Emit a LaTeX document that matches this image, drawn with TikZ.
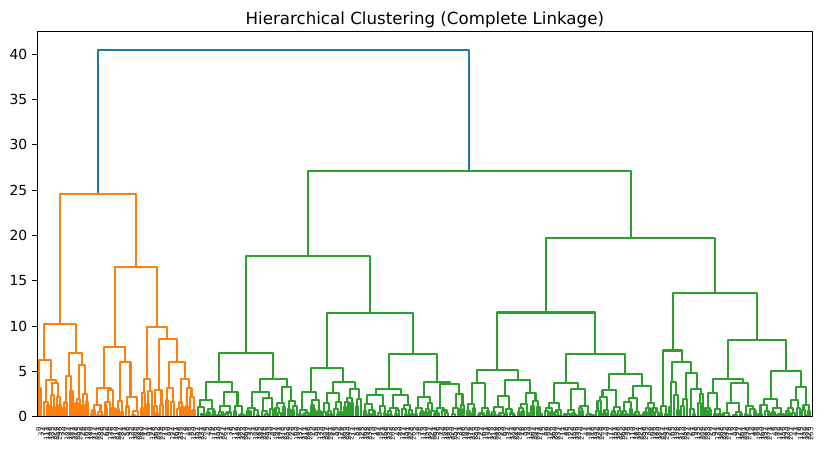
\documentclass[tikz,border=0pt]{standalone}
\usepackage{fontspec}
\setmainfont{DejaVu Sans}
\usepackage{tikz}
\usetikzlibrary{positioning}

\definecolor{mplblue}{HTML}{1F77B4}
\definecolor{mplorange}{HTML}{FF7F0E}
\definecolor{mplgreen}{HTML}{2CA02C}

% one merge: left foot, right foot, height of the bar
\newcommand\lnk[5]{\draw[link] (#1,#2) -- (#1,#5) -- (#3,#5) -- (#3,#4);}
\def\leafspan{3.4}
% small clusters near the leaves: leaves from #1 to #2, top at (#3,#4)
\newcommand\autoclu[4]{%
  \begingroup
  \pgfmathsetmacro\dnA{#1}\pgfmathsetmacro\dnB{#2}%
  \pgfmathsetmacro\dnT{#3}\pgfmathsetmacro\dnH{#4}%
  \pgfmathsetmacro\dnsL{\dnT-\dnA}\pgfmathsetmacro\dnsR{\dnB-\dnT}%
  \ifdim\dnsL pt<\leafspan pt
    \pgfmathsetmacro\dnxL{(\dnA+\dnT)/2}\def\dnhL{0}\def\dnleafL{1}%
  \else
    \pgfmathsetmacro\dnxL{\dnA+\dnsL*(0.3+0.4*rnd)}%
    \pgfmathsetmacro\dnhL{\dnH*(0.25+0.55*rnd)}\def\dnleafL{0}%
  \fi
  \ifdim\dnsR pt<\leafspan pt
    \pgfmathsetmacro\dnxR{(\dnT+\dnB)/2}\def\dnhR{0}\def\dnleafR{1}%
  \else
    \pgfmathsetmacro\dnxR{\dnT+\dnsR*(0.3+0.4*rnd)}%
    \pgfmathsetmacro\dnhR{\dnH*(0.25+0.55*rnd)}\def\dnleafR{0}%
  \fi
  \draw[link] (\dnxL,\dnhL) -- (\dnxL,\dnH) -- (\dnxR,\dnH) -- (\dnxR,\dnhR);
  \if0\dnleafL \autoclu{\dnA}{\dnT}{\dnxL}{\dnhL}\fi
  \if0\dnleafR \autoclu{\dnT}{\dnB}{\dnxR}{\dnhR}\fi
  \endgroup}

\begin{document}
\begin{tikzpicture}[
    x=0.72pt, y=6.5232pt,
    link/.style={line width=1.5pt, line join=round},
    frame/.style={line width=0.8pt},
    ticklab/.style={anchor=east, inner sep=0pt, font=\fontsize{10}{12}\selectfont},
    leaflab/.style={anchor=east, rotate=90, inner sep=0pt, font=\fontsize{5}{6}\selectfont, text=black!85}
]
\useasboundingbox (0,-3.675) rectangle (824,45.99);
\pgfmathsetseed{11}

% top merge
\begin{scope}[color=mplblue]
\lnk{97.7}{24.6}{469}{27.1}{40.47}
\end{scope}

% orange cluster
\begin{scope}[color=mplorange]
\lnk{60}{10.2}{136}{16.5}{24.6}
\lnk{44.3}{6.26}{76}{7.07}{10.2}
\lnk{39.3}{3.2}{51}{4.0}{6.26}
\autoclu{38.7}{42.5}{39.3}{3.2}
\lnk{45.7}{1.6}{56}{3.75}{4.0}
\autoclu{42.5}{49.5}{45.7}{1.6}
\autoclu{49.5}{62}{56}{3.75}
\lnk{68.7}{4.5}{81.7}{5.7}{7.07}
\autoclu{62}{74}{68.7}{4.5}
\lnk{78.7}{2.0}{85}{2.5}{5.7}
\autoclu{74}{81}{78.7}{2.0}
\autoclu{81}{90}{85}{2.5}
\lnk{115}{7.7}{156.7}{9.9}{16.5}
\lnk{104}{3.2}{125}{6.07}{7.7}
\lnk{96.7}{1.3}{111}{2.9}{3.2}
\autoclu{90}{104}{96.7}{1.3}
\autoclu{104}{116}{111}{2.9}
\autoclu{116}{140}{125}{6.07}
\lnk{146.7}{4.16}{167.3}{8.6}{9.9}
\autoclu{140}{153}{146.7}{4.16}
\lnk{158.7}{2.95}{176.7}{6.07}{8.6}
\autoclu{153}{164}{158.7}{2.95}
\lnk{169.3}{3.15}{185}{4.16}{6.07}
\autoclu{164}{176}{169.3}{3.15}
\autoclu{176}{196.5}{185}{4.16}
\end{scope}

% green cluster
\begin{scope}[color=mplgreen]
\lnk{308}{17.7}{631}{19.7}{27.1}
\lnk{246}{7.07}{369.7}{11.4}{17.7}
\lnk{219}{3.87}{272.7}{4.12}{7.07}
\lnk{205.7}{1.84}{232.3}{2.76}{3.87}
\autoclu{196.5}{216}{205.7}{1.84}
\autoclu{216}{246}{232.3}{2.76}
\lnk{260}{2.7}{286.7}{3.3}{4.12}
\autoclu{246}{274}{260}{2.7}
\autoclu{274}{298}{286.7}{3.3}
\lnk{326.7}{5.4}{412.7}{6.9}{11.4}
\lnk{310.7}{2.76}{342.7}{3.87}{5.4}
\autoclu{298}{322}{310.7}{2.76}
\autoclu{322}{362}{342.7}{3.87}
\lnk{389}{3.1}{436.7}{3.87}{6.9}
\lnk{375.7}{2.4}{401}{2.4}{3.1}
\autoclu{362}{386}{375.7}{2.4}
\autoclu{386}{414}{401}{2.4}
\lnk{424.3}{2.2}{450}{3.6}{3.87}
\autoclu{414}{436}{424.3}{2.2}
\autoclu{436}{465}{450}{3.6}
\lnk{546}{11.5}{715}{13.6}{19.7}
\lnk{497.3}{5.15}{595}{6.9}{11.5}
\lnk{476.7}{3.7}{518.3}{4.0}{5.15}
\autoclu{465}{490}{476.7}{3.7}
\lnk{505}{2.3}{530}{2.6}{4.0}
\autoclu{490}{517}{505}{2.3}
\autoclu{517}{543}{530}{2.6}
\lnk{565.7}{3.7}{625}{4.7}{6.9}
\lnk{554}{1.5}{578.3}{3.06}{3.7}
\autoclu{543}{562}{554}{1.5}
\autoclu{562}{595}{578.3}{3.06}
\lnk{609}{2.95}{642.3}{3.4}{4.7}
\autoclu{595}{622}{609}{2.95}
\autoclu{622}{659}{642.3}{3.4}
\lnk{672.7}{7.3}{756.7}{8.46}{13.6}
\lnk{663.3}{1.2}{682.3}{6.07}{7.3}
\autoclu{659}{668}{663.3}{1.2}
\lnk{672.3}{3.87}{691}{4.8}{6.07}
\autoclu{668}{680}{672.3}{3.87}
\lnk{685.7}{2.0}{696.7}{3.1}{4.8}
\autoclu{680}{689}{685.7}{2.0}
\autoclu{689}{704}{696.7}{3.1}
\lnk{727.7}{4.12}{785.7}{5.0}{8.46}
\lnk{712.7}{2.6}{743.3}{3.7}{4.12}
\autoclu{704}{722}{712.7}{2.6}
\autoclu{722}{757}{743.3}{3.7}
\lnk{771}{1.9}{801}{3.3}{5.0}
\autoclu{757}{785}{771}{1.9}
\autoclu{785}{811}{801}{3.3}
\end{scope}

% axes
\draw[frame] (37.3,0) rectangle (812.3,42.5);
\foreach \v in {0,5,...,40} {
  \draw[frame] (37.3,\v) -- (32.4,\v);
  \node[ticklab] (yt\v) at (27.6,\v) {\v};
}
\foreach \i in {0,...,299} {
  \pgfmathtruncatemacro\lab{mod(\i*37,300)}
  \node[leaflab] (lf\i) at ({37.3+(\i+0.5)*2.583},-1.14) {\lab};
}
\node[anchor=base, font=\fontsize{12}{14}\selectfont] (title) at (424.8,43.23) {Hierarchical Clustering (Complete Linkage)};
\end{tikzpicture}
\end{document}
